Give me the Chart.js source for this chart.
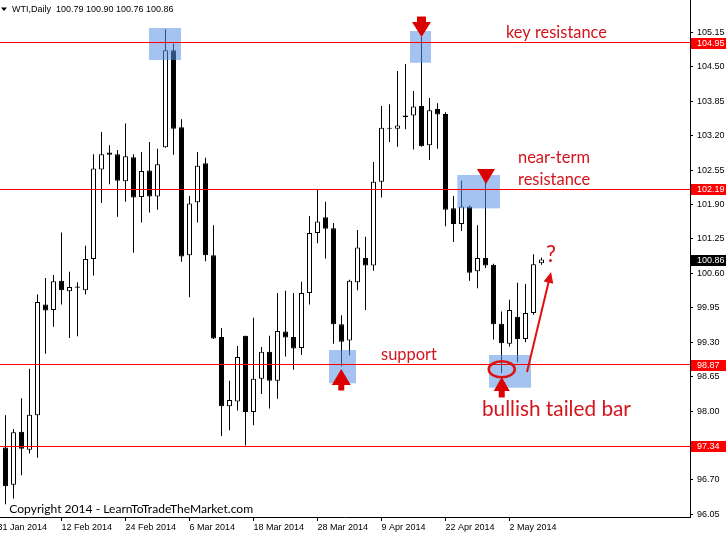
<!DOCTYPE html>
<html>
<head>
<meta charset="utf-8">
<title>WTI Daily</title>
<script src="https://cdn.jsdelivr.net/npm/chart.js@4"></script>
<style>
  html, body { margin: 0; padding: 0; background: #fff; overflow: hidden; }
  canvas { display: block; }
</style>
</head>
<body>
<canvas id="wti" width="726" height="535" style="width:726px;height:535px"></canvas>
<script>
// WTI daily candles, 3 Feb - 8 May 2014
const opens  = [97.31, 96.61, 97.61, 97.27, 97.92, 100.01, 99.91, 100.46, 100.26, 100.35,
                100.28, 100.87, 102.56, 102.88, 102.85, 102.34, 102.79, 102.04, 102.54, 102.05,
                102.98, 104.81, 103.36, 100.94, 101.94, 102.68, 100.94, 99.40, 98.09, 98.18,
                99.42, 97.98, 98.61, 99.12, 98.57, 99.50, 99.40, 99.19, 100.23, 101.36,
                101.66, 101.45, 99.64, 99.33, 100.43, 100.89, 100.75, 102.33, 103.35, 103.33,
                103.58, 103.58, 103.76, 103.02, 103.70, 103.61, 101.83, 101.53, 101.86, 100.64,
                100.89, 100.76, 99.65, 99.27, 99.78, 99.36, 99.85, 100.79];
const highs  = [97.92, 97.66, 98.24, 98.80, 100.20, 100.51, 100.57, 101.37, 100.63, 100.43,
                101.12, 102.85, 103.27, 103.02, 102.93, 103.43, 102.85, 102.89, 103.08, 102.95,
                105.21, 104.94, 103.51, 102.06, 102.89, 102.78, 101.51, 99.57, 98.57, 99.23,
                99.42, 99.76, 99.21, 99.42, 100.23, 100.27, 100.23, 100.44, 101.68, 102.19,
                101.95, 101.55, 99.81, 100.48, 101.42, 101.29, 102.70, 103.76, 103.79, 104.42,
                104.55, 104.04, 105.06, 103.91, 103.81, 103.64, 102.06, 102.35, 101.88, 101.51,
                102.40, 100.78, 99.88, 100.10, 100.42, 100.40, 100.96, 100.90];
const lows   = [96.24, 96.35, 96.79, 97.20, 97.12, 99.08, 99.59, 100.01, 99.38, 99.41,
                100.20, 100.56, 101.93, 102.28, 101.67, 101.95, 100.99, 101.56, 101.75, 101.80,
                102.97, 102.84, 100.82, 100.15, 101.56, 100.83, 99.36, 97.53, 97.64, 98.01,
                97.35, 97.73, 98.32, 98.05, 98.23, 99.03, 98.78, 99.06, 100.01, 101.17,
                100.88, 99.27, 98.84, 99.05, 100.28, 99.91, 100.65, 102.03, 103.08, 102.99,
                103.32, 102.94, 102.99, 102.74, 102.95, 101.49, 101.19, 101.40, 100.46, 100.32,
                100.70, 99.35, 98.72, 99.22, 98.92, 99.30, 99.82, 100.76];
const closes = [96.58, 97.60, 97.29, 97.93, 100.06, 99.90, 100.45, 100.28, 100.34, 100.33,
                100.87, 102.58, 102.85, 102.84, 102.35, 102.81, 102.03, 102.53, 102.05, 102.66,
                104.81, 103.33, 100.92, 101.92, 102.63, 100.94, 99.37, 98.09, 98.21, 99.02,
                97.98, 98.61, 99.12, 98.57, 99.51, 99.39, 99.18, 100.23, 101.36, 101.58,
                101.44, 99.64, 99.31, 100.46, 101.09, 100.75, 102.33, 103.35, 103.33, 103.39,
                103.55, 103.75, 103.00, 103.68, 103.60, 101.80, 101.53, 101.86, 100.61, 100.89,
                100.75, 99.64, 99.28, 99.91, 99.36, 99.85, 100.77, 100.86];

const dateTickIdx = [-1, 7, 15, 23, 31, 39, 47, 55, 63];
const dateLabels  = ['31 Jan 2014', '12 Feb 2014', '24 Feb 2014', '6 Mar 2014', '18 Mar 2014',
                     '28 Mar 2014', '9 Apr 2014', '22 Apr 2014', '2 May 2014'];
const priceTicks  = [105.15, 104.50, 103.85, 103.20, 102.55, 101.90, 101.25, 100.60,
                     99.95, 99.30, 98.65, 98.00, 97.35, 96.70, 96.05];
const levels      = [104.95, 102.19, 98.87, 97.34];

// annotations, in bar index / price units
const boxes = [
  [17.94, 21.94, 105.231, 104.627],
  [50.56, 53.19, 105.175, 104.576],
  [56.48, 61.81, 102.456, 101.827],
  [40.44, 43.81, 99.152, 98.524],
  [60.44, 65.69, 99.058, 98.441]
];
// [index, price, dir, width, height, stemWidth, stemHeight]
const arrows = [
  [52.0, 105.061, 'down', 19, 15, 9, 6],
  [60.06, 102.286, 'down', 18, 15, 0, 0],
  [41.97, 98.794, 'up', 19, 16, 6, 6],
  [62.03, 98.643, 'up', 16, 14, 6, 7]
];
// [text, index, price, width]
const notes = [
  ['key resistance', 62.56, 105.043, 101],
  ['near-term', 64.06, 102.683, 72],
  ['resistance', 64.06, 102.267, 72.3],
  ['support', 46.94, 98.964, 56],
  ['bullish tailed bar', 59.56, 97.907, 149],
  ['?', 67.56, 100.814, 10]
];

const RED = '#ff0000';
const NOTE_RED = '#d4141c';
const AXIS_FONT = "'Liberation Sans', Arial, sans-serif";

function fitText(ctx, text, x, y, width, family) {
  ctx.font = '20px ' + family;
  const size = 20 * width / ctx.measureText(text).width;
  ctx.font = size.toFixed(2) + 'px ' + family;
  ctx.fillText(text, x, y);
}

const overlay = {
  id: 'overlay',
  beforeDraw(chart) {
    const ctx = chart.ctx;
    ctx.save();
    ctx.fillStyle = '#fff';
    ctx.fillRect(0, 0, chart.width, chart.height);
    ctx.restore();
  },
  afterDatasetsDraw(chart) {
    const { ctx, chartArea, scales: { x, y } } = chart;
    ctx.save();
    ctx.beginPath();
    ctx.rect(chartArea.left, chartArea.top, chartArea.right - chartArea.left, chartArea.bottom - chartArea.top);
    ctx.clip();

    // highlight boxes
    ctx.fillStyle = 'rgba(90,145,230,0.55)';
    boxes.forEach(b => {
      const x0 = x.getPixelForValue(b[0]), x1 = x.getPixelForValue(b[1]);
      const y0 = y.getPixelForValue(b[2]), y1 = y.getPixelForValue(b[3]);
      ctx.fillRect(x0, y0, x1 - x0, y1 - y0);
    });

    // horizontal levels
    ctx.strokeStyle = RED;
    ctx.lineWidth = 1;
    levels.forEach(v => {
      const py = Math.round(y.getPixelForValue(v) - 0.5) + 0.5;
      ctx.beginPath();
      ctx.moveTo(chartArea.left, py);
      ctx.lineTo(chartArea.right, py);
      ctx.stroke();
    });

    // arrows
    ctx.fillStyle = '#dd0000';
    arrows.forEach(a => {
      const tx = x.getPixelForValue(a[0]), ty = y.getPixelForValue(a[1]);
      const s = a[2] === 'down' ? -1 : 1;
      const w = a[3], h = a[4], sw = a[5], sh = a[6];
      ctx.beginPath();
      ctx.moveTo(tx, ty);
      ctx.lineTo(tx + w / 2, ty + s * h);
      ctx.lineTo(tx - w / 2, ty + s * h);
      ctx.closePath();
      ctx.fill();
      if (sw > 0) ctx.fillRect(tx - sw / 2, s > 0 ? ty + h - 0.5 : ty - h - sh + 0.5, sw, sh);
    });

    // ellipse round the tail
    ctx.strokeStyle = '#dd1111';
    ctx.lineWidth = 2.5;
    ctx.beginPath();
    ctx.ellipse(x.getPixelForValue(62.03), y.getPixelForValue(98.788), 13, 8, 0, 0, Math.PI * 2);
    ctx.stroke();

    // arrow up to the question mark
    const ax0 = x.getPixelForValue(65.19), ay0 = y.getPixelForValue(98.737);
    const ax1 = x.getPixelForValue(68.19), ay1 = y.getPixelForValue(100.625);
    const ang = Math.atan2(ay1 - ay0, ax1 - ax0);
    ctx.lineWidth = 2;
    ctx.beginPath();
    ctx.moveTo(ax0, ay0);
    ctx.lineTo(ax1 - 6 * Math.cos(ang), ay1 - 6 * Math.sin(ang));
    ctx.stroke();
    ctx.fillStyle = '#dd1111';
    ctx.beginPath();
    ctx.moveTo(ax1, ay1);
    ctx.lineTo(ax1 - 11 * Math.cos(ang) + 5 * Math.sin(ang), ay1 - 11 * Math.sin(ang) - 5 * Math.cos(ang));
    ctx.lineTo(ax1 - 11 * Math.cos(ang) - 5 * Math.sin(ang), ay1 - 11 * Math.sin(ang) + 5 * Math.cos(ang));
    ctx.closePath();
    ctx.fill();

    // red notes
    ctx.fillStyle = NOTE_RED;
    ctx.textBaseline = 'alphabetic';
    ctx.textAlign = 'left';
    notes.forEach(n => fitText(ctx, n[0], x.getPixelForValue(n[1]), y.getPixelForValue(n[2]), n[3], 'Lato, sans-serif'));

    // copyright
    ctx.fillStyle = '#000';
    fitText(ctx, 'Copyright 2014 - LearnToTradeTheMarket.com', 9.3, chartArea.bottom - 4.5, 244, 'Lato, sans-serif');
    ctx.restore();
  },
  afterDraw(chart) {
    const { ctx, chartArea, scales: { y } } = chart;
    ctx.save();
    ctx.font = '9px ' + AXIS_FONT;
    ctx.textBaseline = 'middle';
    ctx.textAlign = 'left';

    // price tags on the axis
    const tag = (v, bg) => {
      const py = Math.round(y.getPixelForValue(v));
      ctx.fillStyle = bg;
      ctx.fillRect(chartArea.right + 1, py - 5, chart.width - chartArea.right - 1, 11);
      ctx.fillStyle = '#fff';
      ctx.fillText(v.toFixed(2), chartArea.right + 7, py + 0.5);
    };
    levels.forEach(v => tag(v, RED));
    tag(closes[closes.length - 1], '#000');

    // symbol header
    ctx.fillStyle = '#000';
    ctx.beginPath();
    ctx.moveTo(1, 7.5);
    ctx.lineTo(7, 7.5);
    ctx.lineTo(4, 11);
    ctx.closePath();
    ctx.fill();
    const last = closes.length - 1;
    const head = 'WTI,Daily  ' + [opens[last], highs[last], lows[last], closes[last]].map(v => v.toFixed(2)).join(' ');
    ctx.textBaseline = 'alphabetic';
    ctx.fillText(head, 12, 12);
    ctx.restore();
  }
};

const idx = opens.map((_, i) => i);
const isUp = i => closes[i] >= opens[i];

new Chart(document.getElementById('wti'), {
  type: 'bar',
  data: {
    datasets: [
      {
        label: 'wick',
        data: idx.map(i => ({ x: i, y: [lows[i], highs[i]] })),
        backgroundColor: '#000',
        borderWidth: 0,
        barThickness: 1,
        inflateAmount: 0,
        grouped: false,
        order: 2
      },
      {
        label: 'body',
        data: idx.map(i => ({ x: i, y: [opens[i], closes[i]] })),
        backgroundColor: c => isUp(c.dataIndex) ? '#fff' : '#000',
        borderColor: '#000',
        borderWidth: 1,
        borderSkipped: false,
        barThickness: 5,
        inflateAmount: 0,
        grouped: false,
        order: 1
      }
    ]
  },
  options: {
    responsive: false,
    animation: false,
    events: [],
    layout: { padding: 0 },
    plugins: { legend: { display: false }, tooltip: { enabled: false } },
    scales: {
      x: {
        type: 'linear',
        offset: false,
        min: -0.6875,
        max: 85.5625,
        afterBuildTicks: s => { s.ticks = dateTickIdx.map(v => ({ value: v })); },
        afterFit: s => { s.height = 18; s.paddingLeft = 0; s.paddingRight = 0; },
        grid: { offset: false, drawOnChartArea: false, drawTicks: true, tickLength: 4, color: '#000' },
        border: { display: true, color: '#000', width: 1 },
        ticks: {
          align: 'start',
          padding: 1,
          autoSkip: false,
          maxRotation: 0,
          color: '#000',
          font: { family: AXIS_FONT, size: 9 },
          callback: (v, i) => dateLabels[i]
        }
      },
      y: {
        position: 'right',
        min: 96.0,
        max: 105.76,
        afterBuildTicks: s => { s.ticks = priceTicks.map(v => ({ value: v })); },
        afterFit: s => { s.width = 36; s.paddingTop = 0; s.paddingBottom = 0; },
        grid: { drawOnChartArea: false, drawTicks: true, tickLength: 3, color: '#000' },
        border: { display: true, color: '#000', width: 1 },
        ticks: {
          padding: 4,
          autoSkip: false,
          color: '#000',
          font: { family: AXIS_FONT, size: 9 },
          callback: v => v.toFixed(2)
        }
      }
    }
  },
  plugins: [overlay]
});
</script>
</body>
</html>
